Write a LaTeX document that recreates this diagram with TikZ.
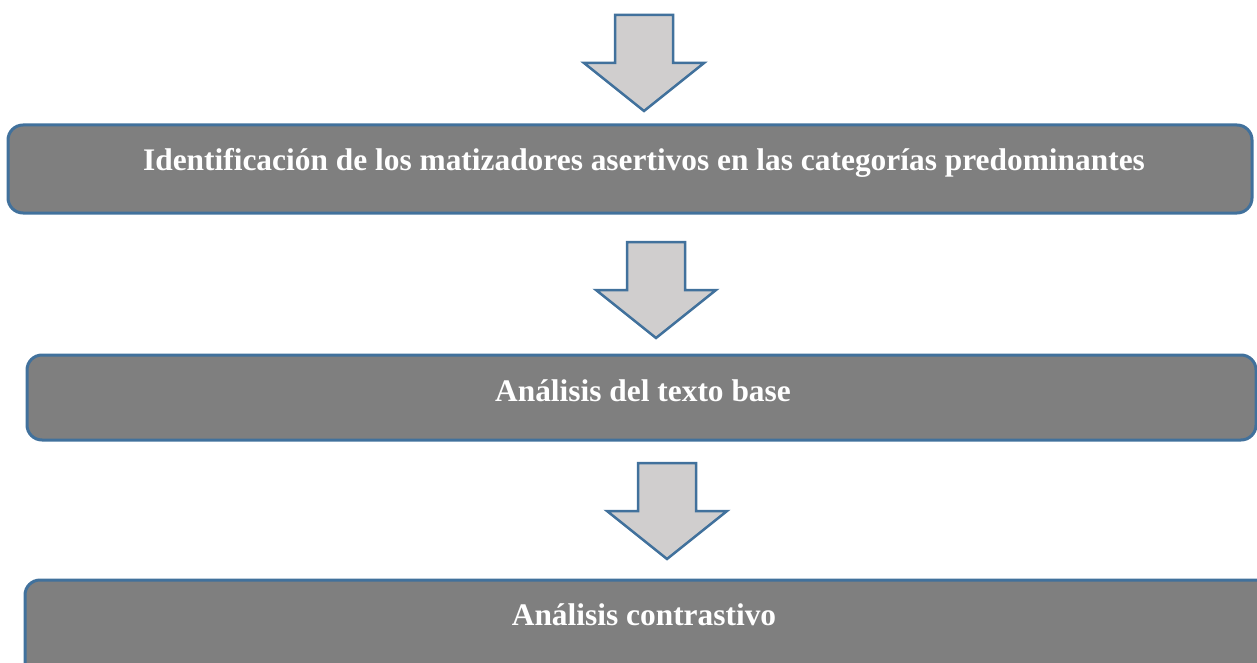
\documentclass[tikz,border=0pt]{standalone}
\usepackage{fontspec}
\setmainfont{Liberation Serif}
\usepackage{tikz}
\usetikzlibrary{positioning}

\definecolor{framblue}{HTML}{41719C}
\definecolor{boxgray}{HTML}{7F7F7F}
\definecolor{arrowgray}{HTML}{D0CECE}

\tikzset{
  stagebox/.style={draw=framblue, fill=boxgray, line width=3pt, rounded corners=15pt,
    rectangle, inner sep=0pt},
  stagetext/.style={anchor=base, text=white, inner sep=0pt,
    font=\fontsize{31.4}{38}\selectfont\bfseries},
  blockarrow/.pic={
    \draw[draw=framblue, fill=arrowgray, line width=2.5pt, line join=miter]
      (-29,0) -- (29,0) -- (29,48) -- (60,48) -- (0,96) -- (-60,48) -- (-29,48) -- cycle;
  }
}

\begin{document}
\begin{tikzpicture}[x=1pt,y=-1pt]
% page frame
\clip (0,0) rectangle (1257,663);

% down arrows
\foreach \x/\y in {644/15, 656/242, 667/463}
\pic at (\x,\y) {blockarrow};

% stage boxes
\node[stagebox, minimum width=1244pt, minimum height=88pt] (ident) at (630,169) {};
\node[stagebox, minimum width=1229pt, minimum height=85pt] (texto) at (641.5,397.5) {};
\node[stagebox, minimum width=1250pt, minimum height=110pt] (contra) at (650,635) {};

% stage labels
\node[stagetext] (identlabel) at (644,171) {Identificación de los matizadores asertivos en las categorías predominantes};
\node[stagetext] (textolabel) at (643,401) {Análisis del texto base};
\node[stagetext] (contralabel) at (644,625) {Análisis contrastivo};
\end{tikzpicture}
\end{document}
